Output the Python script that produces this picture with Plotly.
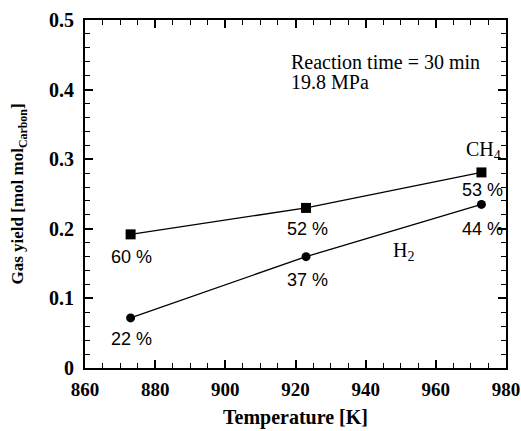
import plotly.graph_objects as go

temperature = [873, 923, 973]
ch4_yield = [0.192, 0.230, 0.281]
h2_yield = [0.072, 0.160, 0.235]
ch4_pct = ["60 %", "52 %", "53 %"]
h2_pct = ["22 %", "37 %", "44 %"]
x_ticks = [860, 880, 900, 920, 940, 960, 980]
y_ticks = [0, 0.1, 0.2, 0.3, 0.4, 0.5]
y_ticklabels = ["0", "0.1", "0.2", "0.3", "0.4", "0.5"]

fig = go.Figure()
fig.add_trace(go.Scatter(x=temperature, y=ch4_yield, mode="lines+markers",
                         line=dict(color="black", width=1.3),
                         marker=dict(symbol="square", size=10, color="black"),
                         showlegend=False))
fig.add_trace(go.Scatter(x=temperature, y=h2_yield, mode="lines+markers",
                         line=dict(color="black", width=1.3),
                         marker=dict(symbol="circle", size=9, color="black"),
                         showlegend=False))

pct_font = dict(family="Liberation Sans", size=18, color="black")
ch4_shift = [-23, -21, -18]
h2_shift = [-21, -23, -25]
for x, y, t, s in zip(temperature, ch4_yield, ch4_pct, ch4_shift):
    fig.add_annotation(x=x, y=y, text=t, showarrow=False, font=pct_font,
                       xanchor="center", yanchor="middle", yshift=s, xshift=1)
for x, y, t, s in zip(temperature, h2_yield, h2_pct, h2_shift):
    fig.add_annotation(x=x, y=y, text=t, showarrow=False, font=pct_font,
                       xanchor="center", yanchor="middle", yshift=s, xshift=1)

serif = dict(family="Liberation Serif", size=20, color="black")
fig.add_annotation(x=918.2, y=0.4397, text="Reaction time = 30 min",
                   showarrow=False, font=serif, xanchor="left", yanchor="middle")
fig.add_annotation(x=918.2, y=0.411, text="19.8 MPa",
                   showarrow=False, font=serif, xanchor="left", yanchor="middle")
fig.add_annotation(x=973.5, y=0.313, text="CH<sub>4</sub>", showarrow=False, font=serif,
                   xanchor="center", yanchor="middle")
fig.add_annotation(x=950.9, y=0.1667, text="H<sub>2</sub>", showarrow=False, font=serif,
                   xanchor="center", yanchor="middle")

axis_common = dict(showline=True, linecolor="black", linewidth=2, mirror="ticks",
                   ticks="inside", ticklen=8, tickwidth=1.5, tickcolor="black",
                   showgrid=False, zeroline=False, ticklabeloverflow="allow")

fig.update_xaxes(range=[860, 980], tickvals=x_ticks, ticklabelstandoff=3,
                 tickfont=dict(family="Liberation Serif", size=19, color="black", weight="bold"),
                 minor=dict(dtick=5, ticks="inside", ticklen=5, tickcolor="black", tickwidth=1.2),
                 title=dict(text="Temperature [K]",
                            font=dict(family="Liberation Serif", size=20, color="black", weight="bold"),
                            standoff=11),
                 **axis_common)
fig.update_yaxes(range=[0, 0.5], tickvals=y_ticks, ticktext=y_ticklabels, ticklabelstandoff=5,
                 tickfont=dict(family="Liberation Serif", size=20, color="black", weight="bold"),
                 minor=dict(dtick=0.02, ticks="inside", ticklen=5, tickcolor="black", tickwidth=1.2),
                 title=dict(text="Gas yield [mol mol<sub>Carbon</sub>]",
                            font=dict(family="Liberation Serif", size=17, color="black", weight="bold"),
                            standoff=21),
                 **axis_common)

fig.update_layout(width=521, height=431, margin=dict(l=85, r=15, t=20, b=63, autoexpand=False),
                  plot_bgcolor="white", paper_bgcolor="white")
fig.write_html("out.html", config={"displayModeBar": False},
               post_script="document.body.style.margin='0';")
